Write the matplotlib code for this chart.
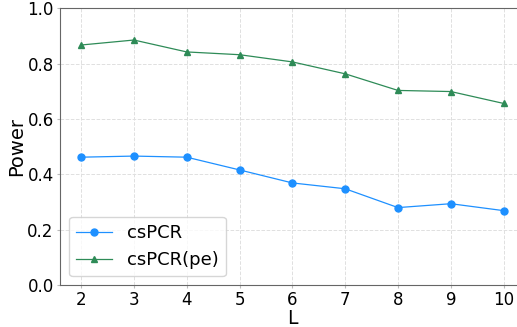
import matplotlib
matplotlib.use("Agg")
import matplotlib.pyplot as plt

L = [2, 3, 4, 5, 6, 7, 8, 9, 10]
cspcr = [0.462, 0.466, 0.462, 0.416, 0.369, 0.348, 0.280, 0.294, 0.269]
cspcr_pe = [0.867, 0.885, 0.842, 0.832, 0.806, 0.763, 0.703, 0.699, 0.656]

fig = plt.figure(figsize=(5.17, 3.27), dpi=100)
ax = fig.add_axes([0.116, 0.128, 0.899, 0.847])

ax.plot(L, cspcr, color="#1E90FF", marker="o", markersize=5, linewidth=0.9, label="csPCR")
ax.plot(L, cspcr_pe, color="#2E8B57", marker="^", markersize=5, linewidth=0.9, label="csPCR(pe)")

ax.set_xlim(1.6, 10.4)
ax.set_ylim(0, 1.0)
ax.set_xticks(L)
ax.set_yticks([0.0, 0.2, 0.4, 0.6, 0.8, 1.0])
ax.tick_params(labelsize=12, length=2.5, pad=2, color="#bbbbbb")
ax.set_xlabel("L", fontsize=13.5, labelpad=0)
ax.set_ylabel("Power", fontsize=14, labelpad=1)
ax.grid(True, linestyle="--", color="#e0e0e0", linewidth=0.7)
for s in ax.spines.values():
    s.set_color("#666666")
ax.legend(loc="lower left", fontsize=13, handlelength=2)

fig.savefig("out.png", dpi=100)
